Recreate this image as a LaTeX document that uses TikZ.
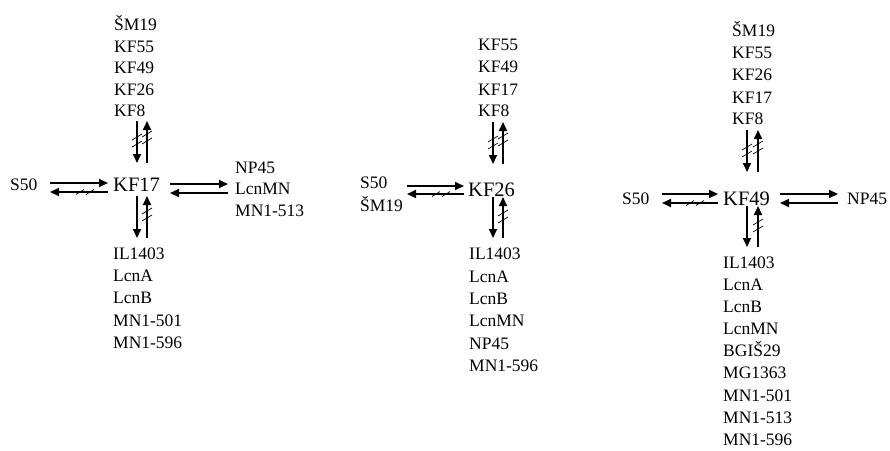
\documentclass[tikz,border=0pt]{standalone}
\usepackage{fontspec}
\setmainfont{Liberation Serif}
\usetikzlibrary{arrows.meta}
\tikzset{
  lbl/.style={inner sep=0pt, anchor=base west, font=\fontsize{17.5}{20}\selectfont},
  ctr/.style={inner sep=0pt, anchor=base west, font=\fontsize{20.5}{24}\selectfont},
  arr/.style={line width=1.8pt, -{Triangle[length=9pt,width=8pt]}},
  sl/.style={line width=0.7pt},
}
\newcommand\myvsl[2]{\draw[sl] (#1-5,#2+3) -- (#1+5,#2-3);}
\newcommand\myhsl[2]{\draw[sl] (#1-4,#2+2.5) -- (#1+4,#2-2.5);}
\begin{document}
\begin{tikzpicture}[x=1pt,y=-1pt]
\useasboundingbox (0,0) rectangle (890,450);
% ---------------- Panel 1 ----------------
\foreach \t/\y [count=\i] in {ŠM19/24,KF55/46,KF49/67,KF26/89,KF8/110}
  \node[lbl] (pat\i) at (114,\y+6) {\t};
\node[ctr] (c1) at (113,184+7) {KF17};
\node[lbl] (pal) at (10,184+6) {S50};
\foreach \t/\y [count=\i] in {NP45/167,LcnMN/188,MN1-513/210}
  \node[lbl] (par\i) at (235,\y+6) {\t};
\foreach \t/\y [count=\i] in {IL1403/253,LcnA/275,LcnB/297,MN1-501/320,MN1-596/342}
  \node[lbl] (pab\i) at (113,\y+6) {\t};
% arrows
\coordinate (a1) at (137,121); \coordinate (a2) at (137,163);
\coordinate (a3) at (147,163); \coordinate (a4) at (147,121);
\coordinate (a5) at (137,196); \coordinate (a6) at (137,238);
\coordinate (a7) at (147,238); \coordinate (a8) at (147,196);
\coordinate (a9) at (50,183);  \coordinate (a10) at (108,183);
\coordinate (a11) at (108,192); \coordinate (a12) at (50,192);
\coordinate (a13) at (170,184); \coordinate (a14) at (228,184);
\coordinate (a15) at (228,193); \coordinate (a16) at (170,193);
\draw[arr] (a1) -- (a2); \draw[arr] (a3) -- (a4);
\draw[arr] (a5) -- (a6); \draw[arr] (a7) -- (a8);
\draw[arr] (a9) -- (a10); \draw[arr] (a11) -- (a12);
\draw[arr] (a13) -- (a14); \draw[arr] (a15) -- (a16);
\myvsl{137}{137}\myvsl{137}{144}
\myvsl{147}{134}\myvsl{147}{141}
\myvsl{147}{211}\myvsl{147}{218}
\myhsl{80}{192}\myhsl{90}{192}
% ---------------- Panel 2 ----------------
\foreach \t/\y [count=\i] in {KF55/44,KF49/66,KF17/89,KF8/110}
  \node[lbl] (pbt\i) at (478,\y+6) {\t};
\node[ctr] (c2) at (468,189+7) {KF26};
\node[lbl] (pbl1) at (360,182+6) {S50};
\node[lbl] (pbl2) at (360,205+6) {ŠM19};
\foreach \t/\y [count=\i] in {IL1403/253,LcnA/276,LcnB/298,LcnMN/320,NP45/343,MN1-596/365}
  \node[lbl] (pbb\i) at (469,\y+6) {\t};
\coordinate (b1) at (493,122); \coordinate (b2) at (493,164);
\coordinate (b3) at (503,164); \coordinate (b4) at (503,122);
\coordinate (b5) at (493,197); \coordinate (b6) at (493,238);
\coordinate (b7) at (503,238); \coordinate (b8) at (503,197);
\coordinate (b9) at (407,186);  \coordinate (b10) at (464,186);
\coordinate (b11) at (464,194); \coordinate (b12) at (407,194);
\draw[arr] (b1) -- (b2); \draw[arr] (b3) -- (b4);
\draw[arr] (b5) -- (b6); \draw[arr] (b7) -- (b8);
\draw[arr] (b9) -- (b10); \draw[arr] (b11) -- (b12);
\myvsl{493}{139}\myvsl{493}{146}
\myvsl{503}{136}\myvsl{503}{143}
\myvsl{503}{213}\myvsl{503}{220}
\myhsl{436}{194}\myhsl{446}{194}
% ---------------- Panel 3 ----------------
\foreach \t/\y [count=\i] in {ŠM19/30,KF55/52,KF26/74,KF17/97,KF8/118}
  \node[lbl] (pct\i) at (732,\y+6) {\t};
\node[ctr] (c3) at (723,198+7) {KF49};
\node[lbl] (pcl) at (622,198+6) {S50};
\node[lbl] (pcr) at (847,198+6) {NP45};
\foreach \t/\y [count=\i] in {IL1403/262,LcnA/284,LcnB/306,LcnMN/328,BGIŠ29/350,MG1363/372,MN1-501/395,MN1-513/417,MN1-596/439}
  \node[lbl] (pcb\i) at (723,\y+6) {\t};
\coordinate (d1) at (747,130); \coordinate (d2) at (747,172);
\coordinate (d3) at (758,172); \coordinate (d4) at (758,130);
\coordinate (d5) at (747,206); \coordinate (d6) at (747,247);
\coordinate (d7) at (758,247); \coordinate (d8) at (758,206);
\coordinate (d9) at (662,194);  \coordinate (d10) at (718,194);
\coordinate (d11) at (718,203); \coordinate (d12) at (662,203);
\coordinate (d13) at (780,194); \coordinate (d14) at (838,194);
\coordinate (d15) at (838,203); \coordinate (d16) at (780,203);
\draw[arr] (d1) -- (d2); \draw[arr] (d3) -- (d4);
\draw[arr] (d5) -- (d6); \draw[arr] (d7) -- (d8);
\draw[arr] (d9) -- (d10); \draw[arr] (d11) -- (d12);
\draw[arr] (d13) -- (d14); \draw[arr] (d15) -- (d16);
\myvsl{747}{147}\myvsl{747}{154}
\myvsl{758}{144}\myvsl{758}{151}
\myvsl{758}{222}\myvsl{758}{229}
\myhsl{690}{203}\myhsl{700}{203}
\end{tikzpicture}
\end{document}
